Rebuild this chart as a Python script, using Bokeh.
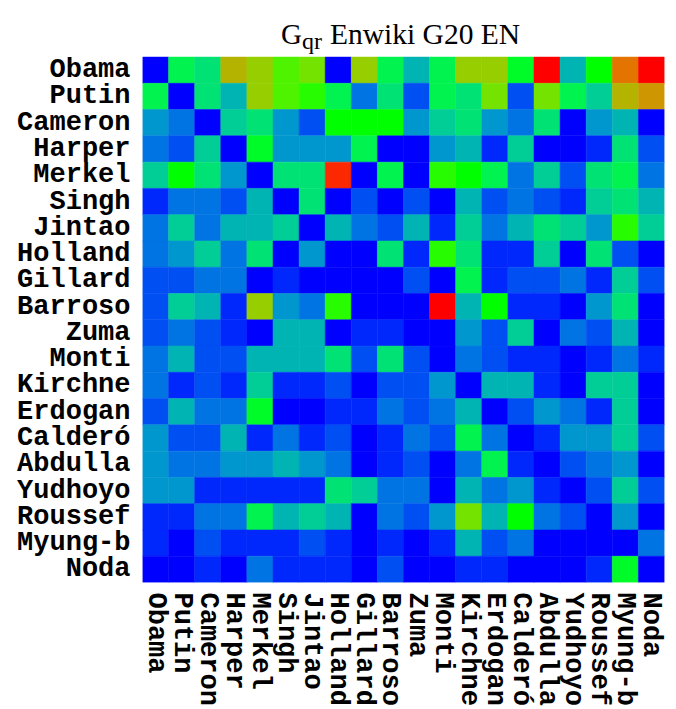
import math
from bokeh.plotting import figure
from bokeh.models import ColumnDataSource, LinearColorMapper, FixedTicker, Range1d, Label
from bokeh.transform import transform
from bokeh.embed import file_html
from bokeh.resources import INLINE

names = ["Obama", "Putin", "Cameron", "Harper", "Merkel", "Singh", "Jintao", "Holland",
         "Gillard", "Barroso", "Zuma", "Monti", "Kirchne", "Erdogan", "Calderó", "Abdulla",
         "Yudhoyo", "Roussef", "Myung-b", "Noda"]

# colour level (0..20) of each cell, row = name on the left, column = name below
row_obama   = [0, 8, 7, 15, 14, 12, 13, 0, 14, 8, 5, 8, 14, 14, 9, 20, 5, 10, 17, 20]
row_putin   = [8, 0, 7, 5, 14, 12, 11, 8, 3, 7, 2, 8, 7, 13, 2, 13, 8, 6, 15, 16]
row_cameron = [4, 3, 0, 6, 7, 4, 2, 10, 10, 10, 4, 6, 7, 4, 3, 7, 0, 4, 5, 0]
row_harper  = [3, 2, 6, 0, 9, 4, 4, 4, 8, 0, 0, 4, 5, 1, 6, 0, 0, 1, 7, 2]
row_merkel  = [6, 10, 7, 4, 0, 7, 7, 19, 0, 8, 0, 11, 10, 8, 3, 6, 2, 7, 8, 3]
row_singh   = [1, 3, 3, 2, 5, 0, 7, 0, 2, 0, 2, 0, 5, 2, 3, 2, 1, 6, 7, 5]
row_jintao  = [3, 6, 3, 5, 5, 6, 0, 5, 3, 2, 5, 1, 6, 3, 5, 7, 6, 4, 11, 6]
row_holland = [3, 4, 6, 3, 7, 0, 4, 0, 0, 7, 1, 11, 7, 1, 1, 6, 0, 7, 2, 0]
row_gillard = [2, 2, 3, 3, 0, 1, 0, 0, 0, 0, 2, 0, 8, 1, 2, 2, 3, 1, 6, 2]
row_barroso = [2, 6, 5, 1, 14, 4, 3, 11, 0, 0, 0, 20, 5, 10, 1, 1, 0, 4, 7, 0]
row_zuma    = [2, 3, 2, 1, 0, 5, 5, 0, 1, 1, 0, 0, 4, 2, 6, 0, 3, 2, 5, 0]
row_monti   = [3, 5, 2, 2, 5, 5, 5, 7, 2, 7, 2, 0, 3, 2, 1, 1, 0, 1, 3, 1]
row_kirchne = [3, 1, 2, 1, 6, 1, 1, 2, 0, 2, 2, 4, 0, 5, 5, 1, 0, 6, 6, 0]
row_erdogan = [2, 5, 3, 3, 9, 0, 0, 1, 1, 3, 2, 3, 5, 0, 2, 4, 3, 1, 6, 0]
row_caldero = [4, 2, 2, 5, 1, 3, 1, 2, 0, 1, 3, 2, 8, 3, 0, 1, 4, 4, 6, 2]
row_abdulla = [4, 3, 3, 4, 4, 5, 4, 3, 0, 1, 2, 0, 3, 8, 1, 0, 2, 3, 4, 0]
row_yudhoyo = [4, 4, 1, 1, 1, 1, 1, 7, 6, 3, 3, 0, 5, 3, 4, 1, 0, 2, 6, 2]
row_roussef = [1, 1, 3, 3, 8, 5, 6, 5, 0, 3, 2, 4, 13, 5, 10, 3, 2, 0, 4, 0]
row_myungb  = [1, 0, 2, 1, 1, 1, 2, 1, 0, 1, 0, 1, 5, 2, 3, 0, 0, 0, 0, 3]
row_noda    = [0, 0, 1, 0, 3, 1, 1, 1, 0, 2, 0, 0, 1, 1, 0, 0, 0, 1, 9, 0]

rows = [row_obama, row_putin, row_cameron, row_harper, row_merkel, row_singh, row_jintao,
        row_holland, row_gillard, row_barroso, row_zuma, row_monti, row_kirchne, row_erdogan,
        row_caldero, row_abdulla, row_yudhoyo, row_roussef, row_myungb, row_noda]

# colour map: blue -> green -> red in 21 steps
palette = []
for k in range(21):
    if k <= 10:
        a = math.radians(9 * k)
        r, g, b = 0.0, math.sin(a), math.cos(a)
    else:
        a = math.radians(9 * (k - 10))
        r, g, b = math.sin(a), math.cos(a), 0.0
    palette.append("#%02x%02x%02x" % (round(r * 255), round(g * 255), round(b * 255)))

xs, ys, vs = [], [], []
for i, row in enumerate(rows):
    for j, v in enumerate(row):
        xs.append(j)
        ys.append(i)
        vs.append(v)
src = ColumnDataSource(dict(x=xs, y=ys, v=vs))
mapper = LinearColorMapper(palette=palette, low=-0.5, high=20.5)

# frame extends above the matrix so the title (with subscript) can live inside it
p = figure(width=672, height=709, output_backend="svg", toolbar_location=None,
           x_range=Range1d(-0.5, 19.5), y_range=Range1d(19.5, -0.5 - 51.5 / 26.25),
           min_border_left=142, min_border_right=8, min_border_top=5, min_border_bottom=127)
p.rect(x="x", y="y", width=1, height=1, source=src,
       fill_color=transform("v", mapper), line_color=transform("v", mapper), line_width=0.5)

tick_pos = list(range(20))
for ax in (p.xaxis[0], p.yaxis[0]):
    ax.ticker = FixedTicker(ticks=tick_pos)
    ax.major_label_overrides = {i: n for i, n in enumerate(names)}
    ax.major_label_text_font = "Liberation Mono"
    ax.major_label_text_font_style = "bold"
    ax.major_label_text_font_size = "27px"
    ax.major_label_text_color = "black"
    ax.axis_line_color = None
    ax.major_tick_line_color = None
    ax.minor_tick_line_color = None
    ax.major_tick_out = 0
    ax.major_tick_in = 0
p.yaxis[0].major_label_standoff = 12
p.xaxis[0].major_label_standoff = 10
p.xaxis[0].major_label_orientation = -math.pi / 2
p.xgrid.grid_line_color = None
p.ygrid.grid_line_color = None
p.outline_line_color = None
p.background_fill_color = "white"
p.border_fill_color = "white"

tfont = "Liberation Serif"
p.add_layout(Label(x=4.807, y=-1.36, text="G", text_font=tfont, text_font_size="29px",
                   text_baseline="alphabetic", text_align="left", text_color="black"))
p.add_layout(Label(x=5.611, y=-1.12, text="qr", text_font=tfont, text_font_size="24px",
                   text_baseline="alphabetic", text_align="left", text_color="black"))
p.add_layout(Label(x=6.684, y=-1.36, text="Enwiki G20 EN", text_font=tfont, text_font_size="29.5px",
                   text_baseline="alphabetic", text_align="left", text_color="black"))

open("out.html", "w").write(file_html(p, INLINE))
